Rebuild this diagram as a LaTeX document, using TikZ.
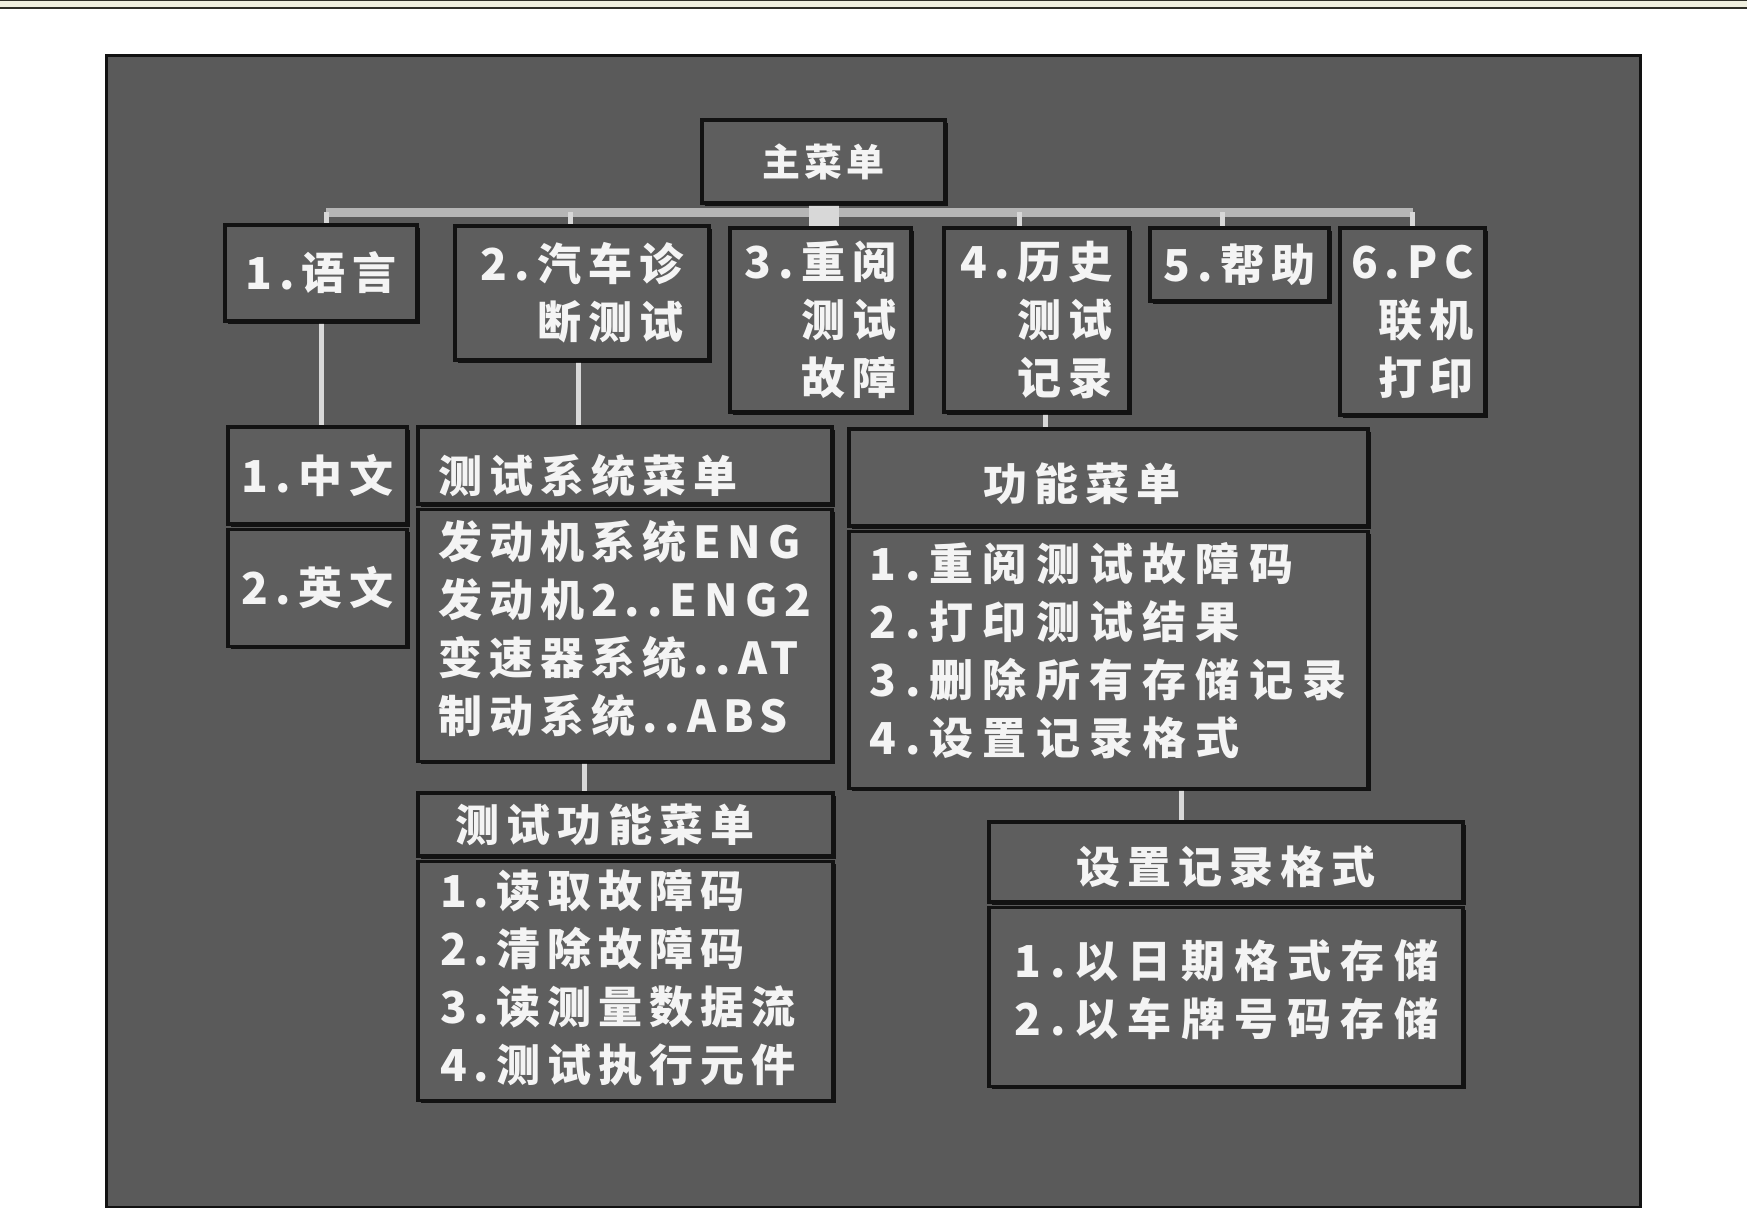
\documentclass[tikz,border=0pt]{standalone}
\usepackage{fontspec}
\usepackage{tikz}
\usetikzlibrary{positioning,backgrounds,shadows}
\newfontfamily\cjk[LetterSpace=16]{Noto Sans CJK SC}
\newfontfamily\cjkwide[LetterSpace=21]{Noto Sans CJK SC}
\newfontfamily\cjkmain[LetterSpace=10]{Noto Sans CJK SC}
\definecolor{ink}{HTML}{121212}
\definecolor{slate}{HTML}{5A5A5A}
\definecolor{boxgray}{HTML}{5E5E5E}
\definecolor{chalk}{HTML}{F4F4F4}
\definecolor{rail}{HTML}{D8D8D8}
\definecolor{railbus}{HTML}{B6B6B6}
\definecolor{cream}{HTML}{EFEFDF}
\definecolor{rulecol}{HTML}{2E2E28}
\tikzset{
  mbox/.style={draw=ink,line width=3.5pt,fill=boxgray,text=chalk,inner sep=0pt,
    font=\cjk\bfseries\fontsize{44}{58}\selectfont,
    drop shadow={shadow xshift=2.5pt,shadow yshift=-2.5pt,fill=black,opacity=0.8}},
  rbox/.style={mbox,align=right},
  cbox/.style={mbox,align=center},
  lbox/.style={mbox,align=left},
  link/.style={draw=rail,line width=5pt},
  bus/.style={draw=railbus,line width=9pt},
}
\begin{document}
\begin{tikzpicture}[x=1pt,y=-1pt,node distance=2pt]
\useasboundingbox (0,0) rectangle (1747,1207);
% top menu row
\node[cbox,font=\cjkmain\bfseries\fontsize{38}{44}\selectfont,minimum width=243pt,minimum height=83pt] (main) at (823.5,161.5) {主菜单};
\node[cbox,minimum width=192pt,minimum height=96pt] (b1) at (321,273) {1.语言};
\node[rbox,minimum width=254pt,minimum height=134pt] (b2) at (582,293) {2.汽车诊\\断测试};
\node[rbox,minimum width=181pt,minimum height=184pt] (b3) at (820.5,320) {3.重阅\\测试\\故障};
\node[rbox,minimum width=185pt,minimum height=184pt] (b4) at (1036.5,320) {4.历史\\测试\\记录};
\node[cbox,minimum width=179pt,minimum height=73pt] (b5) at (1239.5,264.5) {5.帮助};
\node[rbox,minimum width=145pt,minimum height=187pt] (b6) at (1412.5,321.5) {6.PC\\联机\\打印};
% language list
\node[cbox,minimum width=179pt,minimum height=97pt] (lang1) at (317.5,475.5) {1.中文};
\node[cbox,minimum width=179pt,minimum height=117pt,below=of lang1] (lang2) {2.英文};
% test system menu
\node[lbox,text width=374pt,text height=58pt,text depth=5pt,minimum width=414pt,minimum height=77pt] (sysH) at (625,465.5) {测试系统菜单};
\node[lbox,text width=374pt,minimum width=414pt,minimum height=252pt,below=of sysH] (sysB)
  {发动机系统ENG\\发动机2..ENG2\\变速器系统..AT\\制动系统..ABS\par\vspace{14pt}};
% function menu
\node[lbox,text width=251pt,text height=50pt,text depth=5pt,minimum width=519pt,minimum height=97pt] (funcH) at (1108.5,477.5) {功能菜单};
\node[lbox,font=\cjkwide\bfseries\fontsize{44}{58}\selectfont,text width=479pt,minimum width=519pt,minimum height=257pt,below=of funcH] (funcB)
  {1.重阅测试故障码\\2.打印测试结果\\3.删除所有存储记录\\4.设置记录格式\par\vspace{18pt}};
% test function menu
\node[lbox,text width=341pt,minimum width=415pt,minimum height=63pt] (tfunH) at (625.5,824.5) {测试功能菜单};
\node[lbox,text width=371pt,minimum width=415pt,minimum height=239pt,below=of tfunH] (tfunB)
  {1.读取故障码\\2.清除故障码\\3.读测量数据流\\4.测试执行元件\par\vspace{6pt}};
% record format menu
\node[cbox,text height=48pt,text depth=5pt,minimum width=474pt,minimum height=80pt] (fmtH) at (1226,862) {设置记录格式};
\node[lbox,font=\cjkwide\bfseries\fontsize{44}{58}\selectfont,text width=424pt,minimum width=474pt,minimum height=179pt,below=of fmtH] (fmtB)
  {1.以日期格式存储\\2.以车牌号码存储\par\vspace{14pt}};
% panel and connectors
\begin{scope}[on background layer]
\fill[cream] (0,0) rectangle (1747,9);
\draw[rulecol,line width=1.4pt] (0,0.7) -- (1747,0.7);
\draw[rulecol,line width=1.4pt] (0,8) -- (1747,8);
\draw[draw=ink,line width=3pt,fill=slate] (106,56) rectangle (1640,1207);
\coordinate (bus) at (0,212);
\draw[bus] ([xshift=5pt]b1.north |- bus) -- (b6.north |- bus);
\draw[link,line width=30pt] (main.south) -- (main.south |- b3.north);
\foreach \n/\dx in {b1/5,b2/-12,b4/-17.5,b5/-17.5,b6/0}
  \draw[link] ([xshift=\dx pt]\n.north) -- ([xshift=\dx pt]\n.north |- bus);
\draw[link] (b1.south) -- (b1.south |- lang1.north);
\draw[link] ([xshift=-4pt]b2.south) -- ([xshift=-4pt]b2.south |- sysH.north);
\draw[link] ([xshift=8.5pt]b4.south) -- ([xshift=8.5pt]b4.south |- funcH.north);
\draw[link] ([xshift=-41pt]sysB.south) -- ([xshift=-41pt]sysB.south |- tfunH.north);
\draw[link] ([xshift=72.5pt]funcB.south) -- ([xshift=72.5pt]funcB.south |- fmtH.north);
\end{scope}
\end{tikzpicture}
\end{document}
